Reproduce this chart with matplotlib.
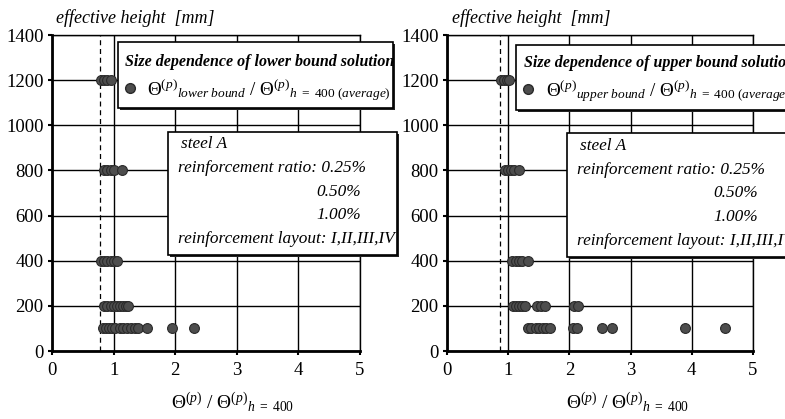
import matplotlib
matplotlib.use("Agg")
import matplotlib.pyplot as plt
from matplotlib.patches import Rectangle

plt.rcParams['font.family'] = ['Liberation Serif', 'DejaVu Serif']
plt.rcParams['mathtext.fontset'] = 'custom'
plt.rcParams['mathtext.rm'] = 'Liberation Serif'
plt.rcParams['mathtext.it'] = 'Liberation Serif:italic'
plt.rcParams['mathtext.bf'] = 'Liberation Serif:bold'

# ---- data ----
heights = [100, 200, 400, 800, 1200]
yticks = [0, 200, 400, 600, 800, 1000, 1200, 1400]
xticks = [0, 1, 2, 3, 4, 5]

lower_h100 = [0.82, 0.87, 0.92, 0.98, 1.03, 1.10, 1.15, 1.22, 1.28, 1.35, 1.40, 1.55, 1.95, 2.31]
lower_h200 = [0.85, 0.90, 0.95, 1.00, 1.05, 1.10, 1.15, 1.20, 1.24]
lower_h400 = [0.80, 0.85, 0.90, 0.95, 1.00, 1.05]
lower_h800 = [0.85, 0.90, 0.95, 1.00, 1.14]
lower_h1200 = [0.80, 0.85, 0.90, 0.95]
lower_ref = 0.785

upper_h100 = [1.33, 1.38, 1.45, 1.50, 1.57, 1.62, 1.69, 2.06, 2.13, 2.54, 2.69, 3.89, 4.54]
upper_h200 = [1.08, 1.12, 1.17, 1.22, 1.27, 1.47, 1.53, 1.60, 2.07, 2.14]
upper_h400 = [1.07, 1.12, 1.17, 1.22, 1.32]
upper_h800 = [0.94, 1.00, 1.05, 1.10, 1.17]
upper_h1200 = [0.88, 0.93, 0.98, 1.02]
upper_ref = 0.87

W, H = 785, 419
fig = plt.figure(figsize=(W / 100, H / 100), dpi=100)


def fx(px):
    return px / W


def fy(py):
    return 1 - py / H


def make_axes(left_px, right_px, groups, ref):
    ax = fig.add_axes([fx(left_px), fy(351), fx(right_px - left_px), (351 - 35) / H])
    ax.set_xlim(0, 5)
    ax.set_ylim(0, 1400)
    ax.set_xticks(xticks)
    ax.set_yticks(yticks)
    ax.grid(True, color='black', linewidth=1.0)
    ax.set_axisbelow(True)
    for s in ['top', 'right']:
        ax.spines[s].set_linewidth(1.0)
    for s in ['left', 'bottom']:
        ax.spines[s].set_linewidth(2.0)
    ax.tick_params(axis='both', direction='out', length=3, width=1.5)
    ax.tick_params(axis='x', labelsize=13.5, pad=5)
    ax.tick_params(axis='y', labelsize=13.5, pad=3)
    ax.axvline(ref, color='black', linestyle=(0, (4, 3)), linewidth=0.9, zorder=2)
    for h, vals in zip(heights, groups):
        ax.scatter(vals, [h] * len(vals), s=50, color='#4d4d4d', edgecolor='#2a2a2a',
                   linewidth=0.8, zorder=3, clip_on=False)
    return ax


ax1 = make_axes(52, 360, [lower_h100, lower_h200, lower_h400, lower_h800, lower_h1200], lower_ref)
ax2 = make_axes(447, 753, [upper_h100, upper_h200, upper_h400, upper_h800, upper_h1200], upper_ref)


def box(x0, y0, x1, y1):
    # shadow
    fig.add_artist(Rectangle((fx(x0) + 2 / W, fy(y1) - 2 / H), fx(x1 - x0), (y1 - y0) / H,
                             transform=fig.transFigure, facecolor='#222222', edgecolor='none', zorder=4))
    fig.add_artist(Rectangle((fx(x0), fy(y1)), fx(x1 - x0), (y1 - y0) / H,
                             transform=fig.transFigure, facecolor='white', edgecolor='black',
                             linewidth=1.2, zorder=5))


def ftext(px, py, s, **kw):
    kw.setdefault('zorder', 6)
    fig.text(fx(px), fy(py), s, **kw)


# titles
ftext(56, 18, 'effective height  [mm]', style='italic', fontsize=13, va='center')
ftext(452, 18, 'effective height  [mm]', style='italic', fontsize=13, va='center')

# legend boxes
box(118, 42, 393, 108)
ftext(125, 62, 'Size dependence of lower bound solution', style='italic', weight='bold',
      fontsize=11.5, va='center')
fig.add_artist(plt.Line2D([fx(130)], [fy(88)], marker='o', markersize=7, color='#4d4d4d',
                          markeredgecolor='#2a2a2a', transform=fig.transFigure, zorder=6))
ftext(147, 90, r'$\Theta^{(p)}{}_{\mathit{lower\ bound}}\ /\ \Theta^{(p)}{}_{\mathit{h\ =\ 400\ (average)}}$',
      fontsize=13.8, va='center')

box(516, 45, 800, 110)
ftext(524, 63, 'Size dependence of upper bound solution', style='italic', weight='bold',
      fontsize=11.5, va='center')
fig.add_artist(plt.Line2D([fx(528)], [fy(89)], marker='o', markersize=7, color='#4d4d4d',
                          markeredgecolor='#2a2a2a', transform=fig.transFigure, zorder=6))
ftext(546, 91, r'$\Theta^{(p)}{}_{\mathit{upper\ bound}}\ /\ \Theta^{(p)}{}_{\mathit{h\ =\ 400\ (average)}}$',
      fontsize=13.8, va='center')

# info boxes
box(168, 132, 397, 255)
ftext(181, 144, 'steel A', style='italic', fontsize=12.4, va='center')
ftext(178, 168, 'reinforcement ratio: 0.25%', style='italic', fontsize=12.4, va='center')
ftext(361, 192, '0.50%', style='italic', fontsize=12.4, va='center', ha='right')
ftext(361, 215, '1.00%', style='italic', fontsize=12.4, va='center', ha='right')
ftext(178, 239, 'reinforcement layout: I,II,III,IV', style='italic', fontsize=12.4, va='center')

box(567, 133, 800, 257)
ftext(580, 146, 'steel A', style='italic', fontsize=12.4, va='center')
ftext(577, 170, 'reinforcement ratio: 0.25%', style='italic', fontsize=12.4, va='center')
ftext(758, 193, '0.50%', style='italic', fontsize=12.4, va='center', ha='right')
ftext(758, 217, '1.00%', style='italic', fontsize=12.4, va='center', ha='right')
ftext(577, 241, 'reinforcement layout: I,II,III,IV', style='italic', fontsize=12.4, va='center')

# x labels
xl = r'$\Theta^{(p)}\ /\ \Theta^{(p)}{}_{\mathit{h\ =\ 400}}$'
ftext(233, 402, xl, fontsize=14, va='center', ha='center')
ftext(628, 402, xl, fontsize=14, va='center', ha='center')

fig.savefig('out.png', dpi=100)
